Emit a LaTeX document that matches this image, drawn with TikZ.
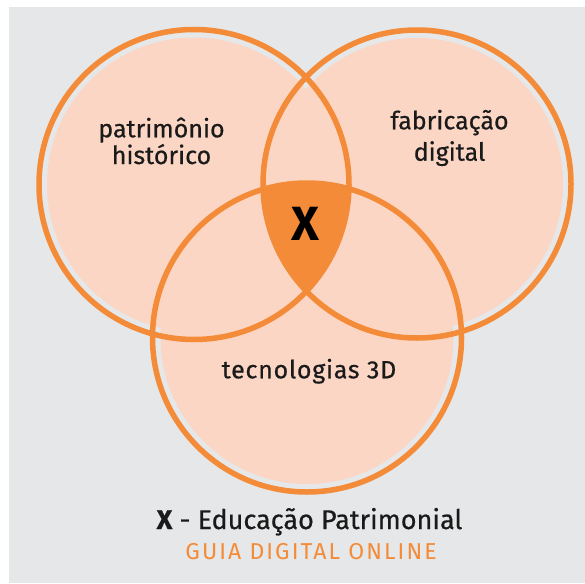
\documentclass[tikz,border=0pt]{standalone}
\usepackage{fontspec}
\setmainfont{Fira Sans}
\newfontfamily\labfont[FakeBold=0.6]{Fira Sans}
\newfontfamily\guiafont[LetterSpace=9]{Fira Sans}
\definecolor{ring}{RGB}{243,139,56}
\definecolor{peach}{RGB}{251,214,196}
\definecolor{bggrey}{RGB}{230,231,232}
\definecolor{ink}{RGB}{26,26,26}
\begin{document}
\begin{tikzpicture}[x=1pt,y=-1pt,
  ringline/.style={draw=ring,line width=5.5pt},
  lbl/.style={anchor=base,inner sep=0pt,text=ink,font=\labfont\fontsize{25}{30}\selectfont}]
\useasboundingbox (0,0) rectangle (585,583);
\fill[white] (0,0) rectangle (585,583);
\fill[bggrey] (9,7) rectangle (585,583);
\coordinate (c1) at (194,184.5);
\coordinate (c2) at (417,184);
\coordinate (c3) at (307,337.5);
% inner fills
\fill[peach] (c1) circle[radius=147];
\fill[peach] (c2) circle[radius=146];
\fill[peach] (c3) circle[radius=146.5];
% central intersection
\begin{scope}
  \clip (c1) circle[radius=155];
  \clip (c2) circle[radius=154];
  \fill[ring] (c3) circle[radius=154.5];
\end{scope}
% rings
\draw[ringline] (c1) circle[radius=155];
\draw[ringline] (c2) circle[radius=154];
\draw[ringline] (c3) circle[radius=154.5];
% labels
\node[lbl] (p1) at (161.5,137.3) {patrimônio};
\node[lbl] (p2) at (161.5,164) {histórico};
\node[lbl] (f1) at (449.5,129.3) {fabricação};
\node[lbl] (f2) at (449.5,160.7) {digital};
\node[lbl] (t1) at (309,378.3) {\addfontfeature{LetterSpace=3}tecnologias 3D};
\node[anchor=base,inner sep=0pt,text=black,font=\fontsize{48}{50}\selectfont\bfseries] (x) at (305.5,240) {X};
\node[anchor=base,inner sep=0pt,text=ink,font=\labfont\fontsize{27}{30}\selectfont] (leg) at (309.5,529) {\textbf{X} - Educação Patrimonial};
\node[anchor=base,inner sep=0pt,text=ring,font=\guiafont\fontsize{23}{26}\selectfont] (guia) at (311,559) {GUIA DIGITAL ONLINE};
\end{tikzpicture}
\end{document}
